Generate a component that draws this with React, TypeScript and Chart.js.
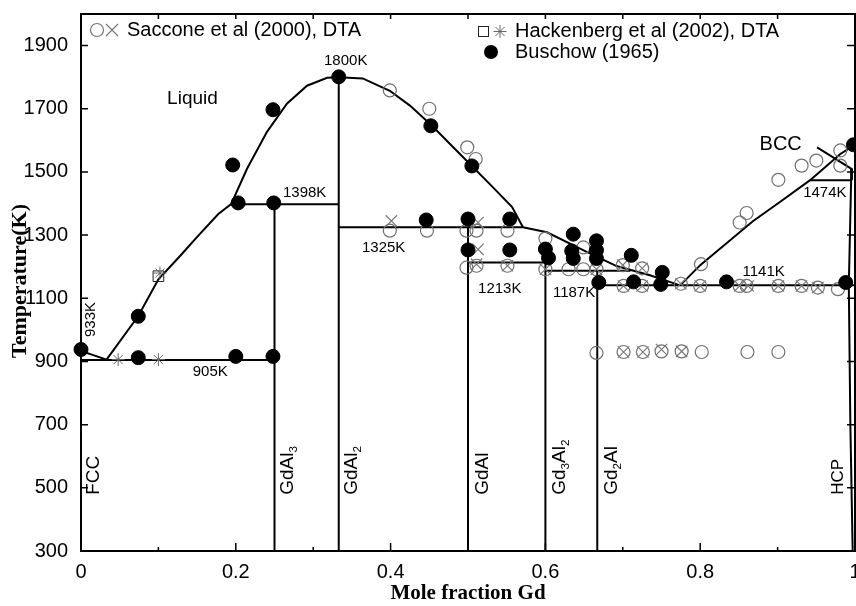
import { useEffect, useRef } from 'react';
import { Chart, registerables } from 'chart.js';

Chart.register(...registerables);

// ---------- axis ticks ----------
const X_TICKS = [0, 0.2, 0.4, 0.6, 0.8, 1];
const Y_TICKS = [300, 500, 700, 900, 1100, 1300, 1500, 1700, 1900];

// ---------- experimental data [mole fraction Gd, T(K)] ----------
const SACCONE_CIRCLES: [number, number][] = [
  [0.399, 1758], [0.45, 1700], [0.499, 1578], [0.51, 1541],
  [0.399, 1314], [0.447, 1314], [0.498, 1314], [0.511, 1314], [0.551, 1314],
  [0.6, 1289], [0.649, 1261],
  [0.498, 1197], [0.511, 1203], [0.551, 1203], [0.6, 1192], [0.63, 1192], [0.649, 1192], [0.666, 1192],
  [0.70, 1205], [0.725, 1195],
  [0.701, 1139], [0.725, 1139], [0.775, 1146], [0.8, 1139], [0.851, 1139], [0.86, 1139],
  [0.901, 1139], [0.931, 1139], [0.952, 1134], [0.978, 1129],
  [0.801, 1208], [0.851, 1340], [0.86, 1370], [0.901, 1475], [0.931, 1520], [0.95, 1536],
  [0.981, 1568], [0.981, 1520],
  [0.666, 927], [0.701, 930], [0.726, 930], [0.75, 932], [0.776, 932], [0.802, 930], [0.861, 930], [0.901, 930],
];
const SACCONE_CROSSES: [number, number][] = [
  [0.401, 1345], [0.513, 1340], [0.513, 1255], [0.511, 1208], [0.551, 1203], [0.6, 1192], [0.666, 1192],
  [0.70, 1205], [0.725, 1195], [0.701, 1139], [0.725, 1139], [0.775, 1146], [0.8, 1139], [0.851, 1139],
  [0.862, 1139], [0.901, 1139], [0.931, 1139], [0.952, 1134],
  [0.701, 930], [0.726, 930], [0.75, 938], [0.776, 932],
];
const HACKENBERG_SQUARES: [number, number][] = [[0.1, 1170]];
const HACKENBERG_STARS: [number, number][] = [[0.102, 1180], [0.048, 906], [0.1, 906]];
const BUSCHOW: [number, number][] = [
  [0, 938], [0.074, 1043], [0.074, 912], [0.2, 916], [0.248, 916], [0.203, 1402], [0.249, 1402],
  [0.196, 1522], [0.248, 1697], [0.333, 1801], [0.452, 1646], [0.505, 1519],
  [0.446, 1348], [0.5, 1351], [0.554, 1351], [0.5, 1253], [0.554, 1253],
  [0.6, 1256], [0.604, 1228], [0.636, 1303], [0.634, 1250], [0.636, 1226],
  [0.666, 1282], [0.666, 1252], [0.666, 1226], [0.711, 1236], [0.669, 1150], [0.714, 1152],
  [0.751, 1182], [0.749, 1144], [0.834, 1152], [0.988, 1150], [0.998, 1586],
];

// ---------- phase boundaries ----------
const AL_LIQUIDUS: [number, number][] = [[0, 933], [0.033, 906]];
const LIQUIDUS_LEFT: [number, number][] = [
  [0.033, 906], [0.074, 1044], [0.1, 1160], [0.128, 1234], [0.1495, 1293], [0.1774, 1367],
  [0.194, 1398], [0.2145, 1510], [0.2403, 1627], [0.266, 1716], [0.292, 1773], [0.318, 1798], [0.333, 1800],
];
const LIQUIDUS_MID: [number, number][] = [
  [0.333, 1800], [0.364, 1796], [0.399, 1757], [0.425, 1710], [0.4535, 1646], [0.4806, 1579],
  [0.505, 1519], [0.532, 1452], [0.557, 1389], [0.571, 1325],
];
const LIQUIDUS_EUT: [number, number][] = [
  [0.571, 1325], [0.602, 1309], [0.654, 1246], [0.692, 1202], [0.735, 1173], [0.774, 1141],
];
const LIQUIDUS_BCC: [number, number][] = [
  [0.774, 1141], [0.8, 1205], [0.868, 1344], [0.903, 1405], [0.942, 1474], [0.981, 1557], [1, 1586],
];
const BCC_HCP: [number, number][] = [[0.951, 1578], [0.996, 1509], [0.996, 1474]];
const HCP_SOLVUS: [number, number][] = [[0.996, 1509], [0.995, 1474], [0.992, 1141], [0.994, 700], [0.997, 300]];
const H905: [number, number][] = [[0, 905], [0.25, 905]];
const H1398: [number, number][] = [[0.194, 1398], [0.333, 1398]];
const H1325: [number, number][] = [[0.333, 1325], [0.571, 1325]];
const H1213: [number, number][] = [[0.5, 1213], [0.6, 1213]];
const H1187: [number, number][] = [[0.6, 1187], [0.71, 1187]];
const H1141: [number, number][] = [[0.667, 1141], [1, 1141]];
const H1474: [number, number][] = [[0.942, 1474], [0.996, 1474]];
const V_GDAL3: [number, number][] = [[0.25, 300], [0.25, 1398]];
const V_GDAL2: [number, number][] = [[0.333, 300], [0.333, 1800]];
const V_GDAL: [number, number][] = [[0.5, 300], [0.5, 1325]];
const V_GD3AL2: [number, number][] = [[0.6, 300], [0.6, 1213]];
const V_GD2AL: [number, number][] = [[0.667, 300], [0.667, 1187]];

const BOUNDARIES = [
  AL_LIQUIDUS, LIQUIDUS_LEFT, LIQUIDUS_MID, LIQUIDUS_EUT, LIQUIDUS_BCC, BCC_HCP, HCP_SOLVUS,
  H905, H1398, H1325, H1213, H1187, H1141, H1474,
  V_GDAL3, V_GDAL2, V_GDAL, V_GD3AL2, V_GD2AL,
];

// ---------- annotations ----------
const TEXT_LABELS = [
  { text: 'Liquid', x: 0.144, y: 1732, size: 19 },
  { text: '1800K', x: 0.342, y: 1852, size: 15 },
  { text: '1398K', x: 0.289, y: 1433, size: 15 },
  { text: '1325K', x: 0.391, y: 1259, size: 15 },
  { text: '905K', x: 0.167, y: 868, size: 15 },
  { text: '1213K', x: 0.541, y: 1129, size: 15 },
  { text: '1187K', x: 0.637, y: 1116, size: 15 },
  { text: '1141K', x: 0.882, y: 1183, size: 15 },
  { text: '1474K', x: 0.961, y: 1433, size: 15 },
  { text: 'BCC', x: 0.904, y: 1586, size: 20 },
];
type Part = { t: string; sub?: boolean };
const PHASE_LABELS: { parts: Part[]; x: number; y: number; size: number }[] = [
  { parts: [{ t: 'FCC' }], x: 0.0168, y: 478, size: 19 },
  { parts: [{ t: 'GdAl' }, { t: '3', sub: true }], x: 0.2668, y: 478, size: 19 },
  { parts: [{ t: 'GdAl' }, { t: '2', sub: true }], x: 0.35, y: 478, size: 19 },
  { parts: [{ t: 'GdAl' }], x: 0.5187, y: 478, size: 19 },
  { parts: [{ t: 'Gd' }, { t: '3', sub: true }, { t: 'Al' }, { t: '2', sub: true }], x: 0.6189, y: 478, size: 19 },
  { parts: [{ t: 'Gd' }, { t: '2', sub: true }, { t: 'Al' }], x: 0.686, y: 478, size: 19 },
  { parts: [{ t: 'HCP' }], x: 0.979, y: 478, size: 17 },
];

const SANS = '"Liberation Sans", Arial, sans-serif';
const SERIF = '"Liberation Serif", "Times New Roman", serif';

function drawRich(ctx: CanvasRenderingContext2D, parts: Part[], x: number, y: number, size: number, rotate: boolean) {
  ctx.save();
  ctx.translate(x, y);
  if (rotate) ctx.rotate(-Math.PI / 2);
  ctx.textBaseline = 'middle';
  ctx.textAlign = 'left';
  ctx.fillStyle = '#000';
  let cx = 0;
  for (const p of parts) {
    const fs = p.sub ? size * 0.62 : size;
    ctx.font = `${fs}px ${SANS}`;
    ctx.fillText(p.t, cx, p.sub ? size * 0.32 : 0);
    cx += ctx.measureText(p.t).width;
  }
  ctx.restore();
}

const decor = {
  id: 'decor',
  beforeDatasetsDraw(chart: any) {
    const { ctx, chartArea: a, scales } = chart;
    const xs = scales.x;
    const ys = scales.y;
    ctx.save();
    ctx.strokeStyle = '#000';
    ctx.lineWidth = 2;
    ctx.strokeRect(a.left, a.top, a.right - a.left, a.bottom - a.top);
    ctx.lineWidth = 1.5;
    ctx.beginPath();
    for (let i = 1; i < 10; i++) {
      const px = xs.getPixelForValue(i / 10);
      const major = i % 2 === 0;
      ctx.moveTo(px, a.bottom);
      ctx.lineTo(px, a.bottom - (major ? 8 : 4));
      ctx.moveTo(px, a.top);
      ctx.lineTo(px, a.top + 5);
    }
    for (const v of Y_TICKS) {
      const py = ys.getPixelForValue(v);
      ctx.moveTo(a.left, py);
      ctx.lineTo(a.left + 7, py);
      ctx.moveTo(a.right, py);
      ctx.lineTo(a.right - 8, py);
    }
    ctx.stroke();
    ctx.restore();
  },
  afterDraw(chart: any) {
    const { ctx, scales } = chart;
    const xs = scales.x;
    const ys = scales.y;
    ctx.save();
    ctx.fillStyle = '#000';
    ctx.textAlign = 'center';
    ctx.textBaseline = 'middle';
    for (const l of TEXT_LABELS) {
      ctx.font = `${l.size}px ${SANS}`;
      ctx.fillText(l.text, xs.getPixelForValue(l.x), ys.getPixelForValue(l.y));
    }
    // rotated 933K
    ctx.save();
    ctx.translate(xs.getPixelForValue(0.0123), ys.getPixelForValue(1033));
    ctx.rotate(-Math.PI / 2);
    ctx.font = `15px ${SANS}`;
    ctx.fillText('933K', 0, 0);
    ctx.restore();
    for (const p of PHASE_LABELS) {
      drawRich(ctx, p.parts, xs.getPixelForValue(p.x), ys.getPixelForValue(p.y), p.size, true);
    }
    // axis titles
    ctx.font = `bold 21px ${SERIF}`;
    ctx.textAlign = 'center';
    ctx.fillText('Mole fraction Gd', 468, 594);
    ctx.save();
    ctx.translate(20, 281);
    ctx.rotate(-Math.PI / 2);
    ctx.font = `bold 22px ${SERIF}`;
    ctx.fillText('Temperature(K)', 0, 0);
    ctx.restore();

    // legend
    ctx.textAlign = 'left';
    ctx.font = `20px ${SANS}`;
    ctx.lineWidth = 1.2;
    ctx.strokeStyle = '#777';
    ctx.beginPath();
    ctx.arc(97, 30, 6.5, 0, Math.PI * 2);
    ctx.stroke();
    ctx.beginPath();
    ctx.moveTo(106, 24); ctx.lineTo(118, 36);
    ctx.moveTo(118, 24); ctx.lineTo(106, 36);
    ctx.stroke();
    ctx.fillText('Saccone et al (2000), DTA', 127, 30);

    ctx.strokeStyle = '#222';
    ctx.lineWidth = 1;
    ctx.strokeRect(478.5, 26.5, 10, 10);
    ctx.strokeStyle = '#666';
    ctx.beginPath();
    for (let k = 0; k < 4; k++) {
      const ang = (k * Math.PI) / 4;
      ctx.moveTo(500 - 6.5 * Math.cos(ang), 31.5 - 6.5 * Math.sin(ang));
      ctx.lineTo(500 + 6.5 * Math.cos(ang), 31.5 + 6.5 * Math.sin(ang));
    }
    ctx.stroke();
    ctx.fillText('Hackenberg et al (2002), DTA', 515, 31);

    ctx.fillStyle = '#000';
    ctx.beginPath();
    ctx.arc(491, 52, 7, 0, Math.PI * 2);
    ctx.fill();
    ctx.fillText('Buschow (1965)', 515, 52);
    ctx.restore();
  },
};

const toXY = (arr: [number, number][]) => arr.map(([x, y]) => ({ x, y }));

export default function App() {
  const ref = useRef<HTMLCanvasElement>(null);
  useEffect(() => {
    if (!ref.current) return;
    const lineSets = BOUNDARIES.map((b) => ({
      data: toXY(b),
      showLine: true,
      borderColor: '#000',
      borderWidth: 2,
      pointRadius: 0,
      fill: false,
      order: 10,
    }));
    const chart = new Chart(ref.current, {
      type: 'scatter',
      data: {
        datasets: [
          ...lineSets,
          {
            label: 'Saccone circles',
            data: toXY(SACCONE_CIRCLES),
            pointStyle: 'circle',
            pointRadius: 6.5,
            borderColor: '#707070',
            borderWidth: 1.2,
            backgroundColor: 'rgba(0,0,0,0)',
            clip: false,
            order: 4,
          },
          {
            label: 'Saccone crosses',
            data: toXY(SACCONE_CROSSES),
            pointStyle: 'crossRot',
            pointRadius: 8,
            borderColor: '#7a7a7a',
            borderWidth: 1.2,
            clip: false,
            order: 3,
          },
          {
            label: 'Hackenberg squares',
            data: toXY(HACKENBERG_SQUARES),
            pointStyle: 'rect',
            pointRadius: 7.5,
            borderColor: '#222',
            borderWidth: 1,
            backgroundColor: 'rgba(0,0,0,0)',
            clip: false,
            order: 3,
          },
          {
            label: 'Hackenberg stars',
            data: toXY(HACKENBERG_STARS),
            pointStyle: 'star',
            pointRadius: 6.5,
            borderColor: '#666',
            borderWidth: 1,
            clip: false,
            order: 2,
          },
          {
            label: 'Buschow',
            data: toXY(BUSCHOW),
            pointStyle: 'circle',
            pointRadius: 7,
            borderColor: '#000',
            backgroundColor: '#000',
            borderWidth: 1,
            clip: false,
            order: 1,
          },
        ] as any,
      },
      options: {
        animation: false,
        responsive: false,
        maintainAspectRatio: false,
        layout: { autoPadding: false, padding: { left: 0, top: 14, right: 1, bottom: 0 } },
        plugins: { legend: { display: false }, tooltip: { enabled: false } },
        scales: {
          x: {
            type: 'linear',
            min: 0,
            max: 1,
            afterBuildTicks: (s: any) => {
              s.ticks = X_TICKS.map((v) => ({ value: v }));
            },
            afterFit: (s: any) => {
              s.height = 55;
              s.paddingLeft = 0;
              s.paddingRight = 0;
            },
            grid: { display: false, drawTicks: false },
            border: { display: false },
            ticks: {
              padding: 9,
              maxRotation: 0,
              autoSkip: false,
              color: '#000',
              font: { family: SANS, size: 20 },
              callback: (v: any) => (v === 0 ? '0' : v === 1 ? '1' : Number(v).toFixed(1)),
            },
          },
          y: {
            type: 'linear',
            min: 300,
            max: 2000,
            afterBuildTicks: (s: any) => {
              s.ticks = Y_TICKS.map((v) => ({ value: v }));
            },
            afterFit: (s: any) => {
              s.width = 81;
              s.paddingTop = 0;
              s.paddingBottom = 0;
            },
            grid: { display: false, drawTicks: false },
            border: { display: false },
            ticks: {
              padding: 13,
              autoSkip: false,
              color: '#000',
              font: { family: SANS, size: 20 },
              callback: (v: any) => String(v),
            },
          },
        },
      } as any,
      plugins: [decor],
    });
    return () => chart.destroy();
  }, []);
  return (
    <div style={{ position: 'absolute', left: 0, top: 0, width: 856, height: 606 }}>
      <canvas ref={ref} width={856} height={606} style={{ display: 'block' }} />
    </div>
  );
}
